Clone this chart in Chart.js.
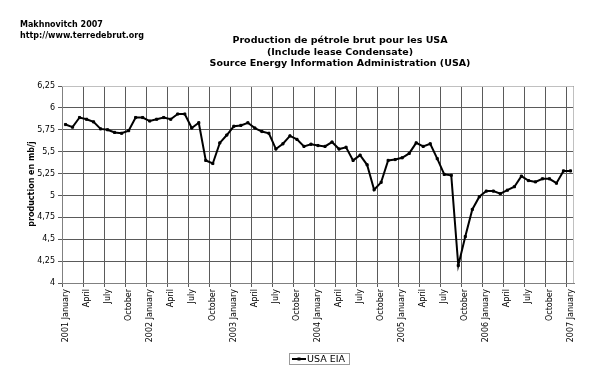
<!DOCTYPE html>
<html>
<head>
<meta charset="utf-8">
<script src="https://cdn.jsdelivr.net/npm/chart.js@4"></script>
<style>
html,body{margin:0;padding:0;background:#fff;}
#wrap{width:600px;height:378px;position:relative;}
</style>
</head>
<body>
<div id="wrap"><canvas id="c" width="600" height="378"></canvas></div>
<script>
// ---- data ----
const seriesLabel = 'USA EIA';
const monthNames = ['January','February','March','April','May','June','July','August','September','October','November','December'];
const years = ['2001','2002','2003','2004','2005','2006','2007'];
const tickLabels = [
  '2001 January','April','July','October',
  '2002 January','April','July','October',
  '2003 January','April','July','October',
  '2004 January','April','July','October',
  '2005 January','April','July','October',
  '2006 January','April','July','October',
  '2007 January'
];
const production = [
  5.81, 5.78, 5.89, 5.87, 5.84, 5.76, 5.75, 5.72, 5.71, 5.74, 5.89, 5.89,
  5.85, 5.87, 5.89, 5.87, 5.93, 5.93, 5.77, 5.83, 5.40, 5.365, 5.60, 5.69,
  5.79, 5.80, 5.83, 5.77, 5.73, 5.71, 5.53, 5.59, 5.68, 5.64, 5.56, 5.585,
  5.57, 5.56, 5.61, 5.53, 5.55, 5.40, 5.46, 5.35, 5.065, 5.15, 5.40, 5.41,
  5.43, 5.48, 5.60, 5.56, 5.59, 5.42, 5.24, 5.23, 4.20, 4.53, 4.84, 4.985,
  5.05, 5.05, 5.02, 5.06, 5.10, 5.22, 5.17, 5.155, 5.19, 5.19, 5.14, 5.28,
  5.28
];
const yTicks = { min: 4, max: 6.25, step: 0.25 };
const headerLines = ['Makhnovitch 2007', 'http://www.terredebrut.org'];
const titleLines = ['Production de pétrole brut pour les USA', '(Include lease Condensate)', 'Source Energy Information Administration (USA)'];
const yTitle = 'production en mb/j';

// categories (one per month)
const categories = [];
years.forEach(y => monthNames.forEach(m => categories.push(m + ' ' + y)));
categories.length = production.length;

const FONT = "'DejaVu Sans', Verdana, sans-serif";
const GRID = '#5a5a5a';

const decor = {
  id: 'decor',
  beforeDatasetsDraw(chart) {
    const { ctx, chartArea: a } = chart;
    ctx.save();
    ctx.strokeStyle = '#c0c0c0';
    ctx.lineWidth = 1;
    ctx.beginPath();
    ctx.moveTo(a.left, a.top + 0.5);
    ctx.lineTo(a.right - 0.5, a.top + 0.5);
    ctx.lineTo(a.right - 0.5, a.bottom);
    ctx.stroke();
    ctx.restore();
  },
  afterDraw(chart) {
    const { ctx } = chart;
    ctx.save();
    ctx.fillStyle = '#000';
    ctx.textBaseline = 'middle';
    // header
    ctx.font = 'bold 8px ' + FONT;
    ctx.textAlign = 'left';
    ctx.fillText(headerLines[0], 20, 25);
    ctx.fillText(headerLines[1], 20, 35.5);
    // title
    ctx.font = 'bold 9.5px ' + FONT;
    ctx.textAlign = 'center';
    ctx.fillText(titleLines[0], 340, 41);
    ctx.fillText(titleLines[1], 340, 52.5);
    ctx.fillText(titleLines[2], 340, 64);
    // y title
    ctx.save();
    ctx.translate(31.5, 184);
    ctx.rotate(-Math.PI / 2);
    ctx.font = 'bold 8px ' + FONT;
    ctx.fillText(yTitle, 0, 0);
    ctx.restore();
    // legend
    const lx = 289, ly = 353, lw = 60, lh = 11;
    ctx.strokeStyle = '#9a9a9a';
    ctx.lineWidth = 1;
    ctx.strokeRect(lx + 0.5, ly + 0.5, lw, lh);
    const my = ly + lh / 2 + 0.5;
    ctx.strokeStyle = '#000';
    ctx.lineWidth = 2;
    ctx.beginPath();
    ctx.moveTo(lx + 3, my);
    ctx.lineTo(lx + 17, my);
    ctx.stroke();
    ctx.fillRect(lx + 8.5, my - 1.5, 3, 3);
    ctx.font = '9.5px ' + FONT;
    ctx.textAlign = 'left';
    ctx.fillText(chart.data.datasets[0].label, lx + 18, my + 0.5);
    ctx.restore();
  }
};

new Chart(document.getElementById('c'), {
  type: 'line',
  data: {
    labels: categories,
    datasets: [{
      label: seriesLabel,
      data: production,
      borderColor: '#000',
      backgroundColor: '#000',
      borderWidth: 2,
      pointStyle: 'rect',
      pointRadius: 1.5,
      pointHoverRadius: 1.5,
      pointBorderWidth: 1,
      tension: 0,
      fill: false
    }]
  },
  options: {
    responsive: false,
    animation: false,
    devicePixelRatio: 1,
    layout: { padding: { left: 0, right: 26, top: 86, bottom: 0 } },
    plugins: {
      legend: { display: false },
      title: { display: false },
      tooltip: { enabled: false }
    },
    events: [],
    scales: {
      x: {
        type: 'category',
        offset: true,
        afterFit(s) { s.height = 95; },
        grid: {
          offset: true,
          color: (c) => (c.index !== undefined && c.index % 3 === 0) ? GRID : 'rgba(0,0,0,0)',
          lineWidth: 1,
          tickLength: 4,
          drawTicks: true
        },
        border: { color: '#808080', width: 1 },
        ticks: {
          autoSkip: false,
          maxRotation: 90,
          minRotation: 90,
          padding: 2,
          color: '#000',
          font: { family: FONT, size: 8 },
          callback: (v, i) => (i % 3 === 0 ? tickLabels[i / 3] : '')
        }
      },
      y: {
        min: yTicks.min,
        max: yTicks.max,
        afterFit(s) { s.width = 62; },
        grid: { color: GRID, lineWidth: 1, tickLength: 4 },
        border: { color: '#808080', width: 1 },
        ticks: {
          stepSize: yTicks.step,
          padding: 3,
          color: '#000',
          font: { family: FONT, size: 8 },
          callback: (v) => String(+v.toFixed(2)).replace('.', ',')
        }
      }
    }
  },
  plugins: [decor]
});
</script>
</body>
</html>
